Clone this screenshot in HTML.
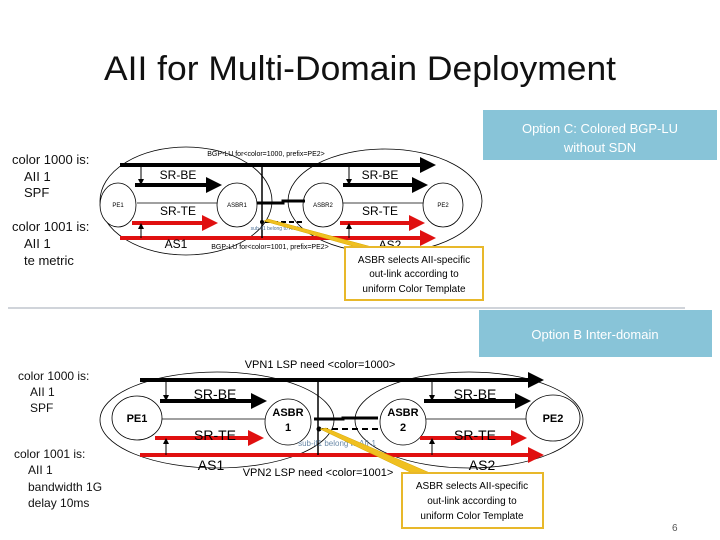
<!DOCTYPE html>
<html><head><meta charset="utf-8"><style>
html,body{margin:0;padding:0;background:#fff;}
svg{display:block;font-family:"Liberation Sans",sans-serif;}
</style></head><body>
<svg width="720" height="540" viewBox="0 0 720 540" xmlns="http://www.w3.org/2000/svg">
<defs>
<marker id="ab" markerWidth="4" markerHeight="4" refX="3" refY="2" orient="auto" markerUnits="strokeWidth"><path d="M0,0 L4,2 L0,4 z" fill="#000"/></marker>
<marker id="ar" markerWidth="4" markerHeight="4" refX="3" refY="2" orient="auto" markerUnits="strokeWidth"><path d="M0,0 L4,2 L0,4 z" fill="#e01010"/></marker>
<marker id="at" markerWidth="6" markerHeight="6" refX="5" refY="3" orient="auto" markerUnits="strokeWidth"><path d="M0,0 L6,3 L0,6 z" fill="#000"/></marker>
</defs>
<text x="360" y="80" font-size="34" text-anchor="middle" fill="#111" textLength="512" lengthAdjust="spacingAndGlyphs">AII for Multi-Domain Deployment</text>

<!-- Option C box -->
<rect x="483" y="110" width="234" height="50" fill="#88c4d8"/>
<text x="600" y="133" font-size="13" fill="#fff" text-anchor="middle">Option C:  Colored BGP-LU</text>
<text x="600" y="152" font-size="13" fill="#fff" text-anchor="middle">without SDN</text>

<!-- left texts top -->
<g font-size="13" fill="#111">
<text x="12" y="164">color 1000 is:</text>
<text x="24" y="181">AII 1</text>
<text x="24" y="197">SPF</text>
<text x="12" y="231">color 1001 is:</text>
<text x="24" y="248">AII 1</text>
<text x="24" y="265">te metric</text>
</g>

<!-- top diagram -->
<g fill="none" stroke="#000" stroke-width="0.8">
<ellipse cx="186" cy="201" rx="86" ry="54"/>
<ellipse cx="385" cy="201" rx="97" ry="52"/>
<line x1="137" y1="203" x2="217" y2="203"/>
<line x1="343" y1="203" x2="423" y2="203"/>
</g>
<g fill="#fff" stroke="#000" stroke-width="0.8">
<ellipse cx="118" cy="205" rx="18" ry="22"/>
<ellipse cx="237" cy="205" rx="20" ry="22"/>
<ellipse cx="323" cy="205" rx="20" ry="22"/>
<ellipse cx="443" cy="205" rx="20" ry="22"/>
</g>
<g font-size="6" text-anchor="middle" fill="#000">
<text x="118" y="207">PE1</text><text x="237" y="207">ASBR1</text><text x="323" y="207">ASBR2</text><text x="443" y="207">PE2</text>
</g>
<line x1="120" y1="165" x2="432" y2="165" stroke="#000" stroke-width="4" marker-end="url(#ab)"/>
<line x1="135" y1="185" x2="218" y2="185" stroke="#000" stroke-width="4" marker-end="url(#ab)"/>
<line x1="343" y1="185" x2="424" y2="185" stroke="#000" stroke-width="4" marker-end="url(#ab)"/>
<line x1="141" y1="165" x2="141" y2="184" stroke="#000" stroke-width="1" marker-end="url(#at)"/>
<line x1="349" y1="165" x2="349" y2="184" stroke="#000" stroke-width="1" marker-end="url(#at)"/>
<line x1="132" y1="223" x2="214" y2="223" stroke="#e01010" stroke-width="4" marker-end="url(#ar)"/>
<line x1="340" y1="223" x2="421" y2="223" stroke="#e01010" stroke-width="4" marker-end="url(#ar)"/>
<line x1="120" y1="238" x2="432" y2="238" stroke="#e01010" stroke-width="4" marker-end="url(#ar)"/>
<line x1="141" y1="238" x2="141" y2="224" stroke="#000" stroke-width="1" marker-end="url(#at)"/>
<line x1="349" y1="238" x2="349" y2="224" stroke="#000" stroke-width="1" marker-end="url(#at)"/>
<line x1="262" y1="165" x2="262" y2="238" stroke="#000" stroke-width="1.5"/>
<path d="M257,203 L283,203 L283,201 L305,201" stroke="#000" stroke-width="3" fill="none"/>
<line x1="265" y1="222" x2="305" y2="222" stroke="#000" stroke-width="2" stroke-dasharray="5,3"/>
<circle cx="262" cy="222" r="2" fill="#000"/>
<g font-size="12" fill="#000" text-anchor="middle">
<text x="178" y="179">SR-BE</text><text x="380" y="179">SR-BE</text>
<text x="178" y="215">SR-TE</text><text x="380" y="215">SR-TE</text>
<text x="176" y="248">AS1</text><text x="390" y="249">AS2</text>
</g>
<text x="266" y="156" font-size="7" text-anchor="middle">BGP-LU for&lt;color=1000, prefix=PE2&gt;</text>
<text x="270" y="249" font-size="7" text-anchor="middle">BGP-LU for&lt;color=1001, prefix=PE2&gt;</text>
<text x="275" y="230" font-size="5" fill="#4a6f95" text-anchor="middle">sub-if1 belong to AII-1</text>
<polygon points="264,221 268,219 372,247 356,247" fill="#f0c020" stroke="#d6a800" stroke-width="0.5"/>
<rect x="345" y="247" width="138" height="53" fill="#fff" stroke="#e8b82a" stroke-width="2"/>
<g font-size="10" text-anchor="middle" fill="#000">
<text x="414" y="263">ASBR selects AII-specific</text>
<text x="414" y="277">out-link according to</text>
<text x="414" y="292">uniform Color Template</text>
</g>

<line x1="8" y1="308" x2="685" y2="308" stroke="#a0aab5" stroke-width="1"/>

<!-- Option B box -->
<rect x="479" y="310" width="233" height="47" fill="#88c4d8"/>
<text x="595" y="339" font-size="13" fill="#fff" text-anchor="middle">Option B Inter-domain</text>

<g font-size="12" fill="#111">
<text x="18" y="380">color 1000 is:</text>
<text x="30" y="396">AII 1</text>
<text x="30" y="412">SPF</text>
<text x="14" y="458">color 1001 is:</text>
<text x="28" y="474">AII 1</text>
<text x="28" y="491">bandwidth 1G</text>
<text x="28" y="507">delay 10ms</text>
</g>

<!-- bottom diagram -->
<g fill="none" stroke="#000" stroke-width="0.8">
<ellipse cx="217" cy="420" rx="117" ry="48"/>
<ellipse cx="469" cy="420" rx="114" ry="48"/>
<line x1="162" y1="419" x2="265" y2="419"/>
<line x1="426" y1="419" x2="526" y2="419"/>
</g>
<g fill="#fff" stroke="#000" stroke-width="0.8">
<ellipse cx="137" cy="418" rx="25" ry="22"/>
<ellipse cx="288" cy="422" rx="23" ry="23"/>
<ellipse cx="403" cy="422" rx="23" ry="23"/>
<ellipse cx="553" cy="418" rx="27" ry="23"/>
</g>
<g font-size="11" font-weight="bold" text-anchor="middle" fill="#000">
<text x="137" y="422">PE1</text><text x="553" y="422">PE2</text>
<text x="288" y="416">ASBR</text><text x="288" y="431">1</text>
<text x="403" y="416">ASBR</text><text x="403" y="431">2</text>
</g>
<line x1="140" y1="380" x2="540" y2="380" stroke="#000" stroke-width="4" marker-end="url(#ab)"/>
<line x1="160" y1="401" x2="263" y2="401" stroke="#000" stroke-width="4" marker-end="url(#ab)"/>
<line x1="424" y1="401" x2="527" y2="401" stroke="#000" stroke-width="4" marker-end="url(#ab)"/>
<line x1="166" y1="380" x2="166" y2="400" stroke="#000" stroke-width="1" marker-end="url(#at)"/>
<line x1="432" y1="380" x2="432" y2="400" stroke="#000" stroke-width="1" marker-end="url(#at)"/>
<line x1="155" y1="438" x2="260" y2="438" stroke="#e01010" stroke-width="4" marker-end="url(#ar)"/>
<line x1="420" y1="438" x2="523" y2="438" stroke="#e01010" stroke-width="4" marker-end="url(#ar)"/>
<line x1="140" y1="455" x2="540" y2="455" stroke="#e01010" stroke-width="4" marker-end="url(#ar)"/>
<line x1="166" y1="455" x2="166" y2="439" stroke="#000" stroke-width="1" marker-end="url(#at)"/>
<line x1="432" y1="455" x2="432" y2="439" stroke="#000" stroke-width="1" marker-end="url(#at)"/>
<line x1="318" y1="380" x2="318" y2="455" stroke="#000" stroke-width="1.5"/>
<path d="M314,419 L343,419 L343,418 L378,418" stroke="#000" stroke-width="3" fill="none"/>
<line x1="322" y1="429" x2="378" y2="429" stroke="#000" stroke-width="2" stroke-dasharray="6,4"/>
<circle cx="319" cy="429" r="2.5" fill="#000"/>
<g font-size="14" fill="#000" text-anchor="middle">
<text x="215" y="399">SR-BE</text><text x="475" y="399">SR-BE</text>
<text x="215" y="440">SR-TE</text><text x="475" y="440">SR-TE</text>
<text x="211" y="470">AS1</text><text x="482" y="470">AS2</text>
</g>
<text x="320" y="368" font-size="11" text-anchor="middle">VPN1 LSP need &lt;color=1000&gt;</text>
<text x="318" y="476" font-size="11" text-anchor="middle">VPN2 LSP need &lt;color=1001&gt;</text>
<text x="337" y="446" font-size="8" fill="#6a8aa8" text-anchor="middle">sub-if1 belong to AII-1</text>
<polygon points="320,429 326,428 430,473 412,473" fill="#f0c020" stroke="#d6a800" stroke-width="0.5"/>
<rect x="402" y="473" width="141" height="55" fill="#fff" stroke="#e8b82a" stroke-width="2"/>
<g font-size="10" text-anchor="middle" fill="#000">
<text x="472" y="489">ASBR selects AII-specific</text>
<text x="472" y="504">out-link according to</text>
<text x="472" y="519">uniform Color Template</text>
</g>
<text x="672" y="531" font-size="10" fill="#555">6</text>
</svg>
</body></html>
